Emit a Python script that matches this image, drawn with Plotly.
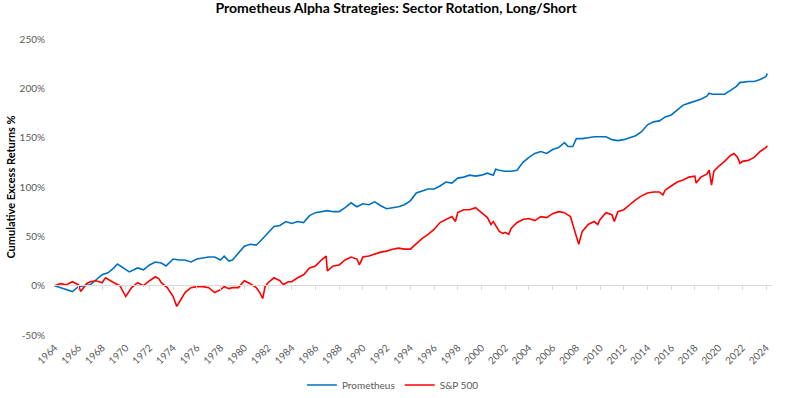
import plotly.graph_objects as go

# ---- data (year as decimal, cumulative excess return %) ----
prom_years = [1964.0, 1965.0, 1965.5, 1966.0, 1967.0, 1967.5, 1968.0, 1968.5, 1969.0, 1969.3,
              1970.0, 1970.3, 1971.0, 1971.5, 1972.0, 1972.5, 1973.0, 1973.4, 1974.0, 1974.5,
              1975.0, 1975.5, 1976.0, 1977.0, 1977.5, 1978.0, 1978.3, 1978.7, 1979.0, 1979.5,
              1980.0, 1980.5, 1981.0, 1981.5, 1982.0, 1982.5, 1983.0, 1983.5, 1984.0, 1984.5,
              1985.0, 1985.5, 1986.0, 1986.5, 1987.0, 1987.5, 1988.0, 1988.5, 1989.0, 1989.5,
              1990.0, 1990.5, 1991.0, 1991.5, 1992.0, 1992.5, 1993.0, 1993.5, 1994.0, 1994.5,
              1995.0, 1995.5, 1996.0, 1996.5, 1997.0, 1997.5, 1998.0, 1998.5, 1999.0, 1999.5,
              2000.0, 2000.5, 2001.0, 2001.2, 2001.5, 2002.0, 2002.5, 2003.0, 2003.5, 2004.0,
              2004.5, 2005.0, 2005.5, 2006.0, 2006.5, 2007.0, 2007.3, 2007.7, 2008.0, 2008.5,
              2009.0, 2009.5, 2010.0, 2010.5, 2011.0, 2011.5, 2012.0, 2012.5, 2013.0, 2013.5,
              2014.0, 2014.5, 2015.0, 2015.5, 2016.0, 2016.5, 2017.0, 2017.5, 2018.0, 2018.5,
              2019.0, 2019.2, 2019.5, 2020.0, 2020.5, 2021.0, 2021.5, 2021.8, 2022.0, 2022.5,
              2023.0, 2023.5, 2024.0, 2024.1]
prom_values = [0, -4, -6, -1, 1, 6, 11, 13, 18, 22,
               16, 14, 18, 16, 21, 24, 23, 20, 27, 26,
               26, 24, 27, 29, 29, 26, 30, 25, 26, 33,
               40, 42, 41, 47, 53, 60, 61, 65, 63, 65,
               64, 71, 74, 75, 76, 75, 75, 79, 84, 80,
               83, 82, 85, 81, 78, 79, 80, 82, 86, 94,
               96, 98, 98, 101, 105, 104, 109, 110, 112, 111,
               112, 114, 112, 118, 117, 116, 116, 117, 125, 130,
               134, 136, 134, 138, 140, 145, 141, 141, 149, 149,
               150, 151, 151, 151, 148, 147, 148, 150, 152, 156,
               163, 166, 167, 171, 173, 178, 183, 185, 187, 189,
               192, 195, 194, 194, 194, 198, 202, 206, 206, 207,
               207, 209, 212, 215]

sp_years = [1964.0, 1964.5, 1965.0, 1965.5, 1966.0, 1966.2, 1966.7, 1967.0, 1967.5, 1968.0,
            1968.3, 1968.7, 1969.0, 1969.5, 1970.0, 1970.5, 1971.0, 1971.5, 1972.0, 1972.5,
            1972.8, 1973.0, 1973.5, 1974.0, 1974.3, 1974.7, 1975.0, 1975.5, 1976.0, 1976.5,
            1977.0, 1977.5, 1978.0, 1978.3, 1978.7, 1979.0, 1979.5, 1980.0, 1980.5, 1981.0,
            1981.3, 1981.55, 1981.75, 1982.0, 1982.5, 1983.0, 1983.3, 1983.7, 1984.0, 1984.5,
            1985.0, 1985.5, 1986.0, 1986.5, 1986.9, 1987.0, 1987.5, 1988.0, 1988.5, 1989.0,
            1989.5, 1989.7, 1990.0, 1990.5, 1991.0, 1991.5, 1992.0, 1992.5, 1993.0, 1993.5,
            1994.0, 1994.5, 1995.0, 1995.5, 1996.0, 1996.5, 1997.0, 1997.5, 1997.8, 1998.0,
            1998.5, 1999.0, 1999.5, 2000.0, 2000.5, 2000.8, 2001.0, 2001.5, 2001.8, 2002.0,
            2002.3, 2002.5, 2003.0, 2003.5, 2004.0, 2004.5, 2005.0, 2005.5, 2006.0, 2006.5,
            2007.0, 2007.5, 2007.8, 2008.0, 2008.2, 2008.5, 2009.0, 2009.5, 2009.8, 2010.0,
            2010.5, 2011.0, 2011.2, 2011.5, 2012.0, 2012.5, 2013.0, 2013.5, 2014.0, 2014.5,
            2015.0, 2015.3, 2015.5, 2016.0, 2016.5, 2017.0, 2017.5, 2018.0, 2018.1, 2018.5,
            2019.0, 2019.2, 2019.4, 2019.6, 2020.0, 2020.5, 2021.0, 2021.3, 2021.6, 2021.8,
            2022.0, 2022.5, 2023.0, 2023.5, 2024.0, 2024.1]
sp_values = [0, 2, 1, 4, 1, -6, 2, 4, 5, 3,
             8, 5, 3, 0, -11, -2, 3, 0, 5, 9,
             7, 3, -2, -11, -21, -13, -7, -2, -1, -1,
             -2, -7, -4, -1, -3, -2, -2, 5, 2, -2,
             -7, -13, -1, 3, 8, 5, 1, 4, 4, 8,
             11, 18, 20, 26, 30, 15, 20, 21, 26, 29,
             27, 21, 29, 30, 32, 34, 35, 37, 38, 37,
             37, 43, 48, 52, 57, 64, 67, 70, 65, 74,
             77, 77, 79, 74, 69, 62, 65, 55, 53, 54,
             52, 58, 64, 67, 68, 66, 70, 69, 73, 75,
             74, 70, 57, 50, 42, 55, 62, 65, 62, 67,
             74, 72, 65, 75, 77, 82, 87, 91, 94, 95,
             95, 92, 97, 101, 105, 107, 110, 111, 104, 110,
             113, 117, 102, 116, 121, 126, 132, 134, 130, 124,
             126, 127, 130, 136, 140, 142]

tick_years = list(range(1964, 2025, 2))
tick_labels = [str(y) for y in tick_years]
y_ticks = [-50, 0, 50, 100, 150, 200, 250]
y_tick_labels = [f"{v}%" for v in y_ticks]

FONT = "Lato, 'Open Sans', sans-serif"
GREY = "#595959"
AXIS_GREY = "#D9D9D9"

fig = go.Figure()
fig.add_trace(go.Scatter(x=prom_years, y=prom_values, mode="lines", name="Prometheus",
                         line=dict(color="#0070C0", width=1.6)))
fig.add_trace(go.Scatter(x=sp_years, y=sp_values, mode="lines", name="S&P 500",
                         line=dict(color="#FF0000", width=1.6)))
# empty trace that only registers the helper subplot for the 0% axis line and its ticks
fig.add_trace(go.Scatter(x=[], y=[], xaxis="x3", yaxis="y3", mode="lines",
                         showlegend=False, hoverinfo="skip"))

x_range = [1963.95, 2024.5]
y_range = [-50, 250]
zero_frac = (0 - y_range[0]) / (y_range[1] - y_range[0])   # where 0% sits in the plot

fig.update_layout(
    width=792, height=398,
    margin=dict(l=54, r=20, t=39, b=63, autoexpand=False),
    paper_bgcolor="white", plot_bgcolor="rgba(0,0,0,0)",
    font=dict(family=FONT, color=GREY, size=10),
    title=dict(text="<b>Prometheus Alpha Strategies: Sector Rotation, Long/Short</b>",
               x=0.5, xanchor="center", yref="container", y=0.98, yanchor="middle",
               automargin=False,
               font=dict(family=FONT, size=14, color="black")),
    showlegend=True,
    legend=dict(orientation="h", x=0.472, xanchor="center", y=-0.169, yanchor="middle",
                bgcolor="rgba(0,0,0,0)", font=dict(size=10, color=GREY), itemwidth=30),
    xaxis=dict(range=x_range, tickmode="array", tickvals=tick_years, ticktext=tick_labels,
               tickangle=-45, showgrid=False, showline=False, zeroline=False,
               ticks="outside", ticklen=2, tickcolor="rgba(0,0,0,0)", automargin=False,
               tickfont=dict(size=10, color=GREY)),
    yaxis=dict(range=y_range, tickmode="array", tickvals=y_ticks, ticktext=y_tick_labels,
               showgrid=False, zeroline=True, zerolinecolor=AXIS_GREY, zerolinewidth=1,
               showline=False, ticks="", automargin=False,
               ticklabelstandoff=8, tickfont=dict(size=10, color=GREY),
               title=dict(text="<b>Cumulative Excess Returns %</b>",
                          font=dict(size=11, color="black"), standoff=1)),
    xaxis3=dict(range=x_range, domain=[0, 1], anchor="y3", side="top",
                tickmode="array", tickvals=tick_years, showticklabels=False,
                showline=True, linecolor=AXIS_GREY, linewidth=1, ticks="inside",
                ticklen=4, tickcolor=AXIS_GREY, showgrid=False, zeroline=False,
                automargin=False, fixedrange=True),
    yaxis3=dict(range=[0, 1], domain=[0, zero_frac], anchor="x3", showticklabels=False,
                showline=False, ticks="", showgrid=False, zeroline=False,
                automargin=False, fixedrange=True),
)
fig.write_html("out.html", config={"displayModeBar": False},
               post_script="document.body.style.margin='0';")
